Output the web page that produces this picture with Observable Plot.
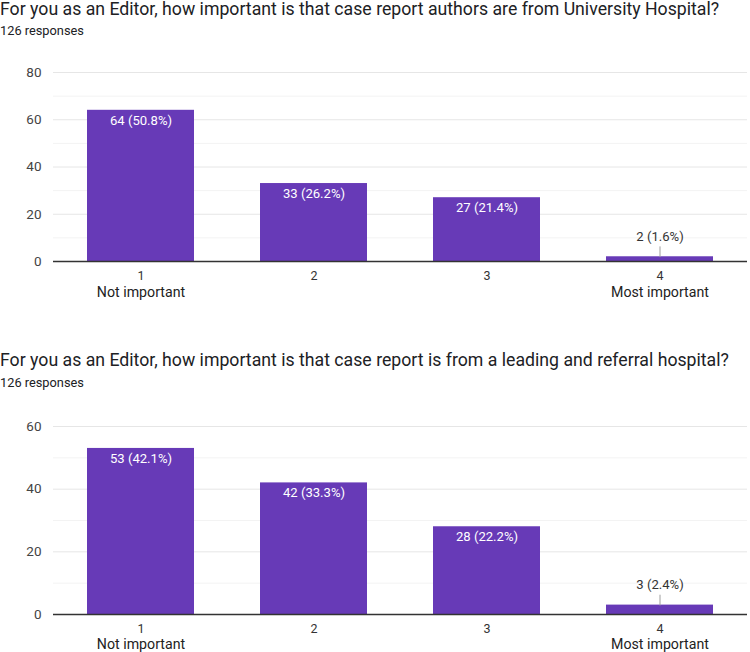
<!DOCTYPE html>
<html>
<head>
<meta charset="utf-8">
<script src="https://cdn.jsdelivr.net/npm/d3@7"></script>
<script src="https://cdn.jsdelivr.net/npm/@observablehq/plot@0.6"></script>
<style>
  html, body { margin: 0; padding: 0; background: #fff; }
  body { width: 750px; height: 652px; position: relative; overflow: hidden; font-family: Roboto, "Noto Sans", sans-serif; }
  .title { position: absolute; left: 0; font-size: 17.7px; color: #202124; white-space: nowrap; }
  .sub { position: absolute; left: 0; font-size: 12.8px; color: #202124; }
  .chart { position: absolute; left: 0; }
</style>
</head>
<body>
<div class="title" style="top:-1px">For you as an Editor, how important is that case report authors are from University Hospital?</div>
<div class="sub" style="top:23px">126 responses</div>
<div class="chart" id="c1" style="top:60px"></div>
<div class="title" style="top:350px">For you as an Editor, how important is that case report is from a leading and referral hospital?</div>
<div class="sub" style="top:375px">126 responses</div>
<div class="chart" id="c2" style="top:410px"></div>
<script>
const categories = [1, 2, 3, 4];
const catLabels = ["Not important", "", "", "Most important"];
const q1Counts = [64, 33, 27, 2];
const q1Pct = ["50.8%", "26.2%", "21.4%", "1.6%"];
const q2Counts = [53, 42, 28, 3];
const q2Pct = ["42.1%", "33.3%", "22.2%", "2.4%"];
const q1Ticks = [0, 20, 40, 60, 80];
const q1Minor = [10, 30, 50, 70];
const q2Ticks = [0, 20, 40, 60];
const q2Minor = [10, 30, 50];

const purple = "#673ab7";

function chart(counts, pcts, ticks, minor, opts) {
  const data = categories.map((c, i) => ({c, v: counts[i], label: `${counts[i]} (${pcts[i]})`, name: catLabels[i]}));
  const max = d3.max(ticks);
  const inside = data.filter(d => d.v / max >= 0.1);
  const outside = data.filter(d => d.v / max < 0.1);
  return Plot.plot({
    width: 750,
    height: opts.height,
    marginLeft: 53,
    marginRight: 3,
    marginTop: opts.mt,
    marginBottom: opts.mb,
    style: {fontFamily: "Roboto, 'Noto Sans', sans-serif", fontSize: "13px", color: "#444"},
    x: {domain: categories, paddingInner: 0.38, paddingOuter: 0.19, axis: null},
    y: {domain: [0, max], axis: null},
    marks: [
      Plot.ruleY(minor, {stroke: "#f3f3f3", strokeWidth: 1}),
      Plot.ruleY(ticks.filter(t => t > 0), {stroke: "#e6e6e6", strokeWidth: 1}),
      Plot.axisY({ticks, tickSize: 0, tickPadding: 12, fill: "#444", fontSize: 13.5, label: null}),
      Plot.barY(data, {x: "c", y: "v", fill: purple}),
      Plot.ruleY([0], {stroke: "#333", strokeWidth: 1.3}),
      Plot.text(inside, {x: "c", y: "v", text: "label", dy: 10, fill: "white", fontSize: 13.1}),
      Plot.vector(outside, {x: "c", y: "v", length: 10, rotate: 0, anchor: "start", stroke: "#9e9e9e", strokeWidth: 1,
        shape: {draw(ctx, l) { ctx.moveTo(0, 0); ctx.lineTo(0, -l); }}}),
      Plot.text(outside, {x: "c", y: "v", text: "label", dy: -20, fill: "#333", fontSize: 13.1}),
      Plot.text(data, {x: "c", y: 0, text: d => String(d.c), dy: opts.d1, fill: "#333", fontSize: 12.5}),
      Plot.text(data, {x: "c", y: 0, text: "name", dy: opts.d2, fill: "#222", fontSize: 14.2})
    ]
  });
}

document.getElementById("c1").append(chart(q1Counts, q1Pct, q1Ticks, q1Minor, {height: 250, mt: 12, mb: 49, d1: 14, d2: 31}));
document.getElementById("c2").append(chart(q2Counts, q2Pct, q2Ticks, q2Minor, {height: 242, mt: 16, mb: 38, d1: 14, d2: 30}));
</script>
</body>
</html>
